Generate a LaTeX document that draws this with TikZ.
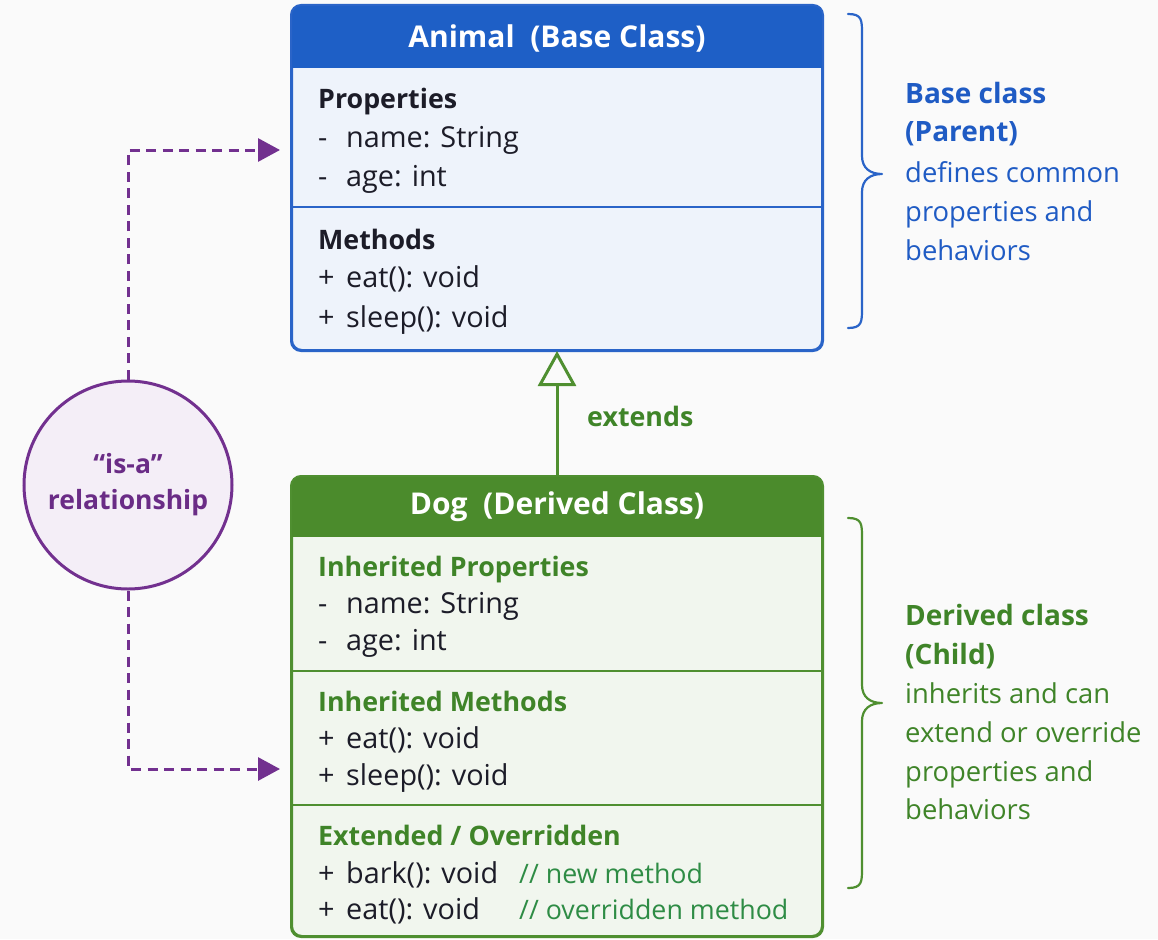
\documentclass[tikz,border=0pt]{standalone}
\usepackage{fontspec}
\setmainfont{Open Sans}
\usetikzlibrary{arrows.meta}

\definecolor{bg}{HTML}{FAFAFA}
\definecolor{ink}{HTML}{1C1C28}
\definecolor{bluehd}{HTML}{1E5FC6}
\definecolor{bluebd}{HTML}{2A64C8}
\definecolor{bluefill}{HTML}{EEF3FB}
\definecolor{bluetxt}{HTML}{1F5BC4}
\definecolor{greenhd}{HTML}{4B8B2C}
\definecolor{greenbd}{HTML}{4F8F30}
\definecolor{greenfill}{HTML}{F1F6EE}
\definecolor{greentxt}{HTML}{3F8428}
\definecolor{cmt}{HTML}{2E8C45}
\definecolor{purp}{HTML}{72308F}
\definecolor{purpfill}{HTML}{F4EEF7}
\definecolor{purptxt}{HTML}{6A2C86}

\newcommand{\lead}[1]{\makebox[28pt][l]{#1}}

\begin{document}
\begin{tikzpicture}[x=1pt,y=-1pt,
  txt/.style={anchor=base west, inner sep=0pt, font=\fontsize{28.8}{32}\selectfont, text=ink},
  hd/.style={anchor=base west, inner sep=0pt, font=\fontsize{26.8}{32}\selectfont\bfseries},
  title/.style={inner sep=0pt, font=\fontsize{30}{32}\selectfont\bfseries, text=white},
  cmtxt/.style={anchor=base west, inner sep=0pt, font=\fontsize{26.8}{32}\selectfont, text=cmt},
  side/.style={anchor=base west, inner sep=0pt, font=\fontsize{27.4}{32}\selectfont},
  sideb/.style={anchor=base west, inner sep=0pt, font=\fontsize{28}{32}\selectfont\bfseries},
  classbox/.style={line width=2pt, rounded corners=10pt, minimum width=530pt, inner sep=0pt},
  isadash/.style={draw=purp, line width=3pt, dash pattern=on 10pt off 6.5pt,
    -{Triangle[length=22pt,width=23pt,fill=purp]}},
  bracepath/.style={line width=2.2pt, line cap=round, line join=round}
]
\fill[bg] (0,0) rectangle (1158,939);
\useasboundingbox (0,0) rectangle (1158,939);

% ---------- base class box ----------
\node[classbox, draw=bluebd, fill=bluefill, minimum height=344pt] (animal) at (557,178) {};
\begin{scope}
  \clip[rounded corners=10pt] (animal.north west) rectangle (animal.south east);
  \fill[bluehd] (animal.north west) rectangle ([yshift=-63pt]animal.north east);
\end{scope}
\draw[bluebd, line width=2pt, rounded corners=10pt] (animal.north west) rectangle (animal.south east);
\draw[bluebd, line width=2pt] ([yshift=-202pt]animal.north west) -- ([yshift=-202pt]animal.north east);
\node[title] (animalT) at (557,38) {Animal\ \ (Base Class)};

\node[hd, text=ink] (aProp) at (318,109) {Properties};
\node[txt] (aName) at (318,147) {\lead{-}name: String};
\node[txt] (aAge) at (318,186) {\lead{-}age: int};
\node[hd, text=ink] (aMeth) at (318,249) {Methods};
\node[txt] (aEat) at (318,287) {\lead{+}eat(): void};
\node[txt] (aSleep) at (318,327) {\lead{+}sleep(): void};

% ---------- derived class box ----------
\node[classbox, draw=greenbd, fill=greenfill, minimum height=459pt] (dog) at (557,706.5) {};
\begin{scope}
  \clip[rounded corners=10pt] (dog.north west) rectangle (dog.south east);
  \fill[greenhd] (dog.north west) rectangle ([yshift=-61pt]dog.north east);
\end{scope}
\draw[greenbd, line width=2pt, rounded corners=10pt] (dog.north west) rectangle (dog.south east);
\draw[greenbd, line width=2pt] ([yshift=-195pt]dog.north west) -- ([yshift=-195pt]dog.north east);
\draw[greenbd, line width=2pt] ([yshift=-329pt]dog.north west) -- ([yshift=-329pt]dog.north east);
\node[title] (dogT) at (557,507) {Dog\ \ (Derived Class)};

\node[hd, text=greentxt] (dProp) at (318,576) {Inherited Properties};
\node[txt] (dName) at (318,613) {\lead{-}name: String};
\node[txt] (dAge) at (318,650) {\lead{-}age: int};
\node[hd, text=greentxt] (dMeth) at (318,711) {Inherited Methods};
\node[txt] (dEat) at (318,748) {\lead{+}eat(): void};
\node[txt] (dSleep) at (318,785) {\lead{+}sleep(): void};
\node[hd, text=greentxt] (dExt) at (318,845) {Extended / Overridden};
\node[txt] (dBark) at (318,883) {\lead{+}bark(): void};
\node[txt] (dEat2) at (318,919) {\lead{+}eat(): void};
\node[cmtxt] (cNew) at (519,883) {// new method};
\node[cmtxt] (cOver) at (519,919) {// overridden method};

% ---------- inheritance arrow ----------
\draw[greenbd, line width=3pt,
  -{Triangle[open, length=35pt, width=38pt, line width=3pt, fill=bg]}] (dog.north) -- (animal.south);
\node[hd, text=greentxt] (ext) at (587,426) {extends};

% ---------- "is-a" relationship ----------
\node[circle, draw=purp, fill=purpfill, line width=3pt, minimum size=208pt, inner sep=0pt,
  align=center, text=purptxt, font=\fontsize{26.5}{36}\selectfont\bfseries] (isa) at (128,485)
  {“is-a”\\relationship};
\coordinate (aIn) at (280,150);
\coordinate (dIn) at (280,769);
\draw[isadash] (isa.north) |- (aIn);
\draw[isadash] (isa.south) |- (dIn);

% ---------- braces and notes ----------
\coordinate (b1t) at (848,14);
\coordinate (b1m) at (882,174);
\coordinate (b1b) at (848,328);
\draw[bracepath, bluebd] (b1t) .. controls (862,14) and (862,20) .. (862,34)
  -- (862,156) .. controls (862,168) and (870,174) .. (b1m)
  .. controls (870,174) and (862,180) .. (862,192)
  -- (862,308) .. controls (862,322) and (862,328) .. (b1b);

\coordinate (b2t) at (848,518);
\coordinate (b2m) at (882,703);
\coordinate (b2b) at (848,888);
\draw[bracepath, greenbd] (b2t) .. controls (862,518) and (862,524) .. (862,538)
  -- (862,685) .. controls (862,697) and (870,703) .. (b2m)
  .. controls (870,703) and (862,709) .. (862,721)
  -- (862,868) .. controls (862,882) and (862,888) .. (b2b);

\node[sideb, text=bluetxt] (n1) at (905,103) {Base class};
\node[sideb, text=bluetxt] (n2) at (905,142) {(Parent)};
\node[side, text=bluetxt] (n3) at (905,182) {defines common};
\node[side, text=bluetxt] (n4) at (905,221) {properties and};
\node[side, text=bluetxt] (n5) at (905,260) {behaviors};

\node[sideb, text=greentxt] (m1) at (905,625) {Derived class};
\node[sideb, text=greentxt] (m2) at (905,664) {(Child)};
\node[side, text=greentxt] (m3) at (905,703) {inherits and can};
\node[side, text=greentxt] (m4) at (905,742) {extend or override};
\node[side, text=greentxt] (m5) at (905,781) {properties and};
\node[side, text=greentxt] (m6) at (905,819) {behaviors};
\end{tikzpicture}
\end{document}
